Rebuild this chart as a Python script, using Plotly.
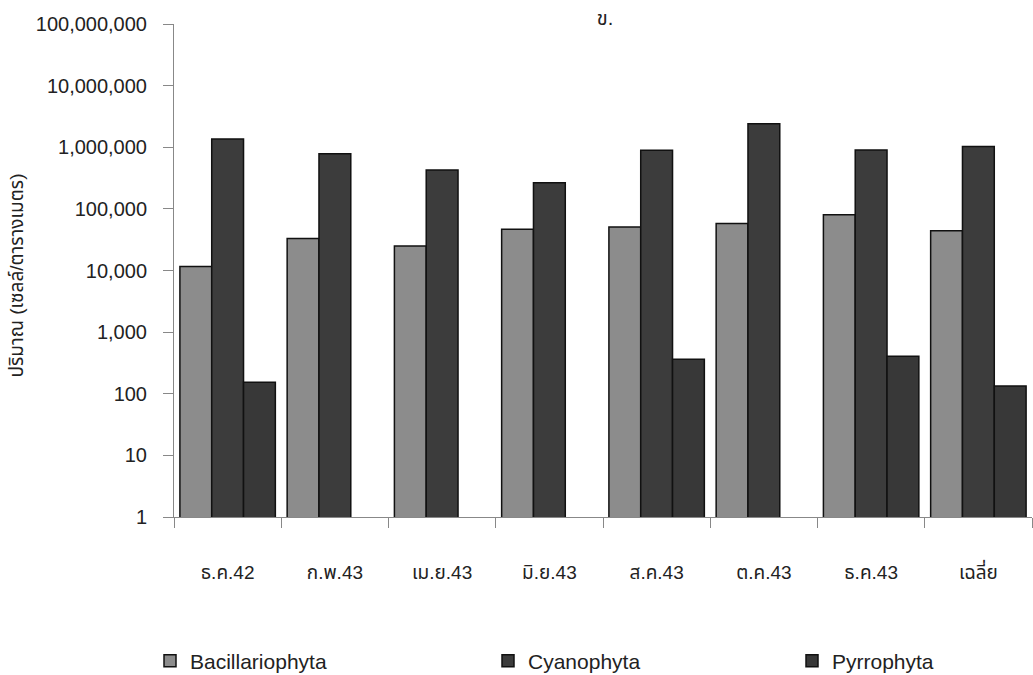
import plotly.graph_objects as go

categories = ["ธ.ค.42", "ก.พ.43", "เม.ย.43", "มิ.ย.43", "ส.ค.43", "ต.ค.43", "ธ.ค.43", "เฉลี่ย"]
bacillariophyta = [11600, 33000, 25000, 46700, 51000, 57700, 80000, 44000]
cyanophyta = [1360000, 785000, 427000, 266000, 890000, 2400000, 900000, 1030000]
pyrrophyta = [153, None, None, None, 362, None, 405, 134]

series_names = ["Bacillariophyta", "Cyanophyta", "Pyrrophyta"]
series_values = [bacillariophyta, cyanophyta, pyrrophyta]
series_colors = ["#8c8c8c", "#3c3c3c", "#383838"]
legend_ids = ["legend", "legend2", "legend3"]

y_tickvals = [1, 10, 100, 1000, 10000, 100000, 1000000, 10000000, 100000000]
y_ticktext = ["1", "10", "100", "1,000", "10,000", "100,000", "1,000,000", "10,000,000", "100,000,000"]

FONT = "Liberation Sans, Arial, Noto Sans Thai, Tahoma, sans-serif"

fig = go.Figure()
for name, vals, col, lg in zip(series_names, series_values, series_colors, legend_ids):
    fig.add_trace(go.Bar(
        x=categories, y=vals, name=name, legend=lg, showlegend=True,
        marker=dict(color=col, line=dict(color="#111111", width=1.5)),
    ))

legend_common = dict(orientation="h", bgcolor="rgba(0,0,0,0)", xref="container", yref="container",
                     yanchor="middle", xanchor="left", font=dict(family=FONT, size=21, color="#222222"))
fig.update_layout(
    width=1033, height=675,
    showlegend=True,
    margin=dict(l=174, r=1, t=24, b=158),
    paper_bgcolor="white", plot_bgcolor="white",
    barmode="group", bargap=0.11, bargroupgap=0,
    font=dict(family=FONT, color="#222222"),
    title=dict(text="ข.", x=605/1033, y=1-18/675, xref="container", yref="container",
               xanchor="center", yanchor="middle", font=dict(family=FONT, size=20, color="#222222")),
    legend=dict(x=150/1033, y=1-661/675, **legend_common),
    legend2=dict(x=488/1033, y=1-661/675, **legend_common),
    legend3=dict(x=792/1033, y=1-661/675, **legend_common),
    xaxis=dict(type="category", showline=True, linecolor="#888888", linewidth=1,
               ticks="outside", tickson="boundaries", ticklen=10, tickcolor="#888888",
               ticklabelstandoff=38, tickfont=dict(family=FONT, size=19, color="#222222"),
               showgrid=False),
    yaxis=dict(type="log", range=[0, 8], showline=True, linecolor="#888888", linewidth=1,
               ticks="outside", ticklen=10, tickcolor="#888888", showgrid=False,
               tickvals=y_tickvals, ticktext=y_ticktext, ticklabelstandoff=12,
               tickfont=dict(family=FONT, size=20, color="#222222"), zeroline=False),
    annotations=[dict(text="ปริมาณ (เซลล์/ตารางเมตร)", textangle=-90, xref="paper", yref="paper",
                      x=(16-174)/858, y=0.49, xanchor="center", yanchor="middle", showarrow=False,
                      font=dict(family=FONT, size=19, color="#222222"))],
)

fig.write_html("out.html")
